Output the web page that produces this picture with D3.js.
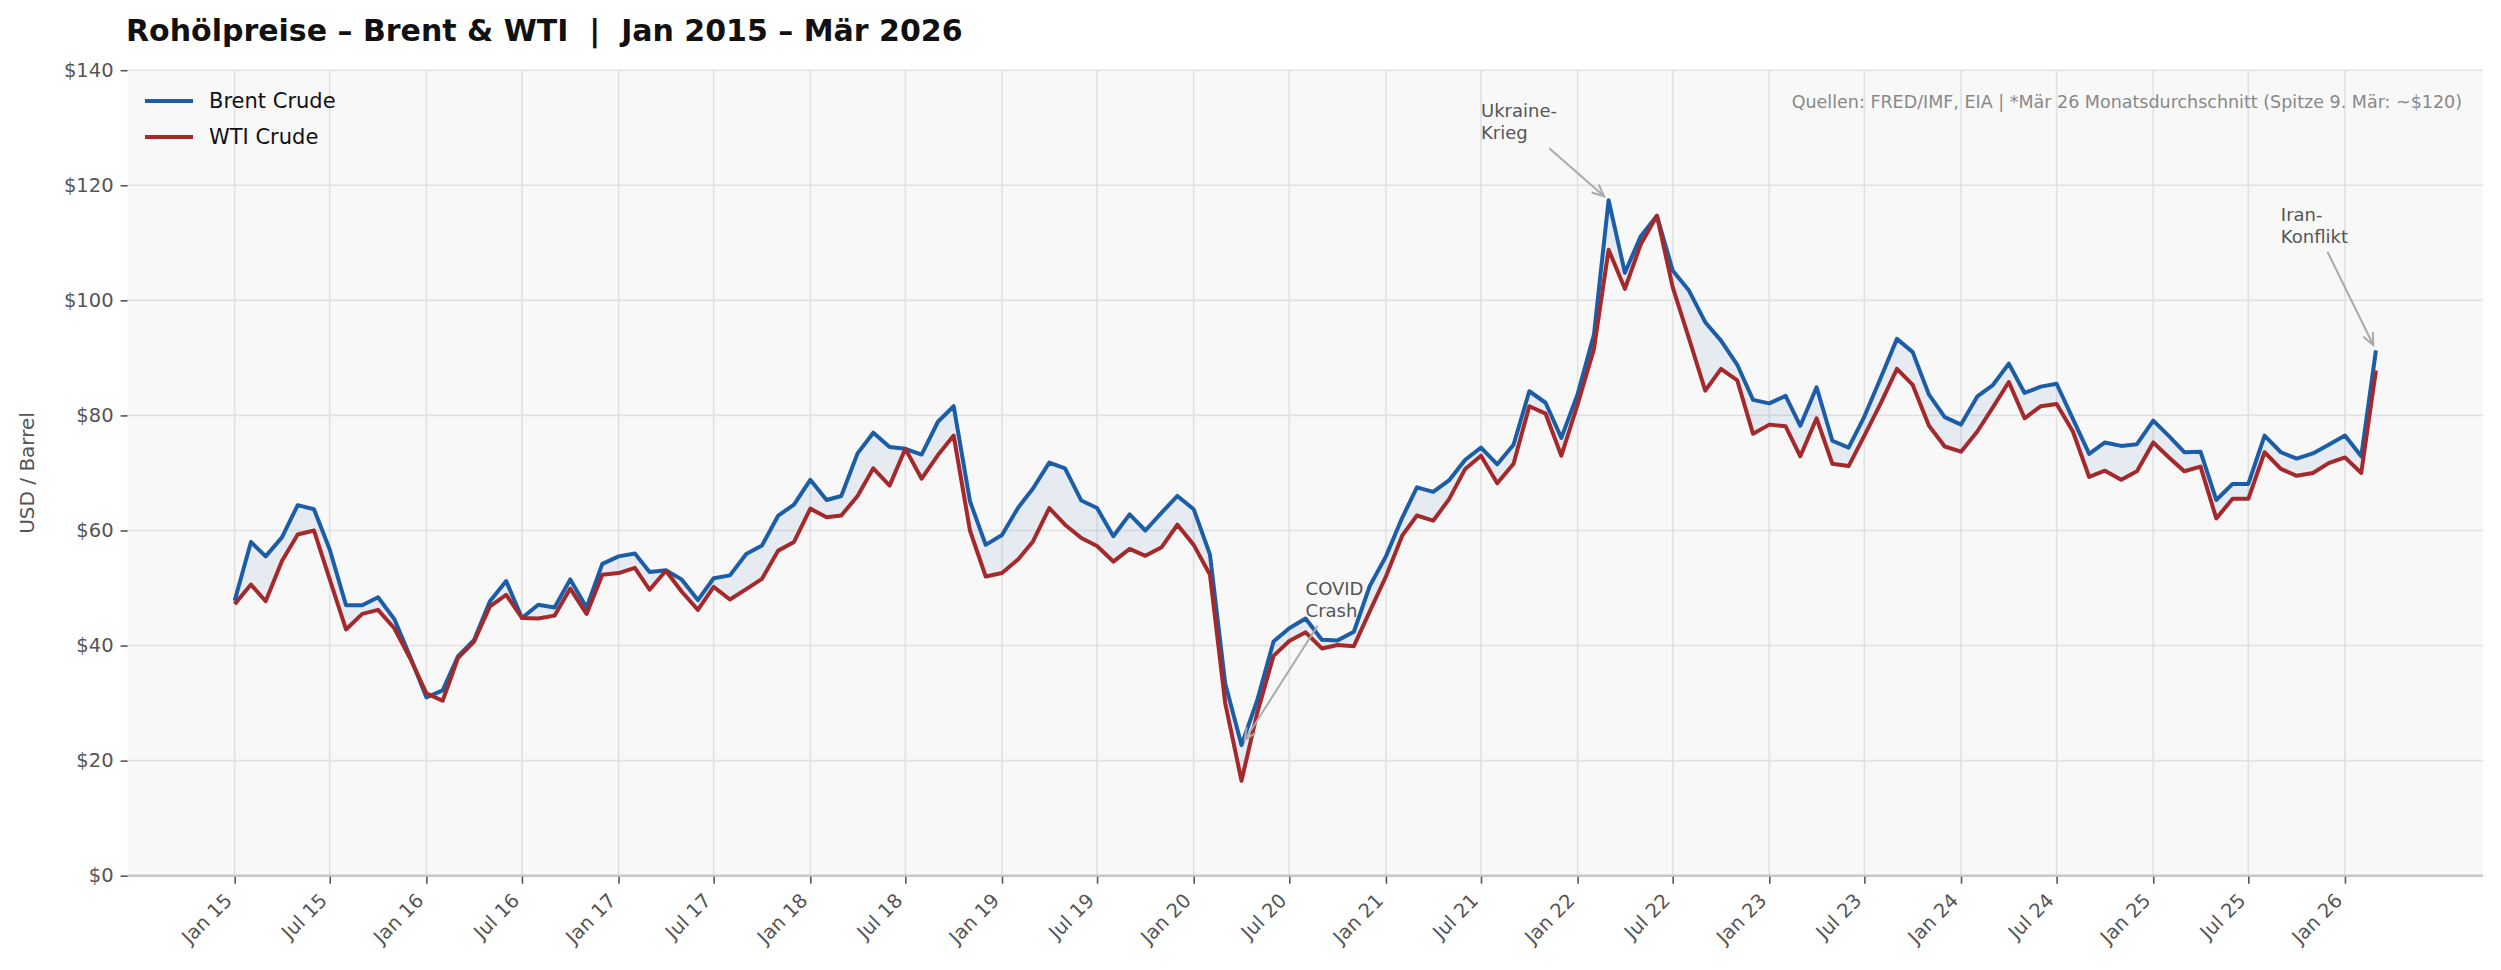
<!DOCTYPE html>
<html><head><meta charset="utf-8">
<script src="https://cdn.jsdelivr.net/npm/d3@7/dist/d3.min.js"></script>
<style>
body{margin:0;background:#fff}
svg{display:block;font-family:"DejaVu Sans",sans-serif}
</style>
</head><body>
<svg id="chart" width="2501" height="970"></svg>
<script>
// ---------- data ----------
const firstMonth = [2015, 0];   // Jan 2015
const seriesNames = ["Brent Crude", "WTI Crude"];
const brent = [
  47.8, 58.0, 55.5, 58.8, 64.4, 63.7, 56.7, 47.0, 47.0, 48.4, 44.6, 38.1,
  31.0, 32.2, 38.1, 41.0, 47.7, 51.2, 44.8, 47.1, 46.6, 51.5, 46.6, 54.2,
  55.5, 56.0, 52.8, 53.1, 51.5, 47.9, 51.7, 52.2, 55.9, 57.4, 62.6, 64.5,
  68.8, 65.3, 66.0, 73.4, 77.0, 74.5, 74.2, 73.2, 78.9, 81.6, 65.1, 57.5,
  59.2, 64.0, 67.3, 71.8, 70.8, 65.2, 63.9, 59.0, 62.8, 60.0, 63.1, 66.0,
  63.7, 55.8, 33.4, 22.7, 30.5, 40.7, 43.0, 44.7, 41.0, 40.9, 42.4, 50.3,
  55.5, 62.2, 67.5, 66.7, 68.7, 72.3, 74.4, 71.5, 74.9, 84.2, 82.2, 76.1,
  83.7, 94.0, 117.4, 104.8, 111.1, 114.7, 105.2, 101.7, 96.2, 93.0, 88.8, 82.7,
  82.1, 83.4, 78.2, 84.9, 75.6, 74.4, 79.8, 86.5, 93.3, 91.0, 83.6, 79.7,
  78.4, 83.3, 85.2, 89.0, 83.9, 85.0, 85.5, 79.4, 73.3, 75.3, 74.7, 75.0,
  79.1, 76.3, 73.6, 73.7, 65.3, 68.1, 68.1, 76.5, 73.6, 72.5, 73.4, 74.9,
  76.5, 72.9, 91.3
];
const wti = [
  47.2, 50.6, 47.7, 54.7, 59.3, 60.0, 51.5, 42.8, 45.5, 46.2, 43.0, 37.8,
  31.7, 30.4, 37.8, 40.7, 46.8, 48.8, 44.8, 44.7, 45.2, 49.9, 45.5, 52.3,
  52.6, 53.5, 49.7, 53.0, 49.4, 46.2, 50.2, 48.0, 49.8, 51.6, 56.5, 58.0,
  63.8, 62.3, 62.6, 66.0, 70.8, 67.8, 74.2, 69.0, 73.1, 76.5, 60.0, 52.0,
  52.6, 55.0, 58.1, 63.9, 61.0, 58.7, 57.3, 54.6, 56.8, 55.6, 57.1, 61.0,
  57.5, 52.3, 30.0, 16.5, 28.3, 38.2, 40.8, 42.3, 39.5, 40.1, 39.9, 45.9,
  52.0, 59.1, 62.6, 61.7, 65.4, 70.7, 73.0, 68.2, 71.6, 81.6, 80.3, 73.0,
  81.9, 91.5, 108.8, 102.0, 109.7, 114.7, 102.3, 93.4, 84.3, 88.1, 86.1, 76.8,
  78.4, 78.1, 72.9, 79.5, 71.6, 71.2, 76.5, 82.1, 88.1, 85.3, 78.2, 74.6,
  73.7, 77.2, 81.3, 85.8, 79.5, 81.6, 82.0, 77.2, 69.3, 70.4, 68.8, 70.3,
  75.3, 72.6, 70.3, 71.1, 62.1, 65.5, 65.5, 73.6, 70.7, 69.5, 70.0, 71.7,
  72.7, 70.0, 87.8
];
const yTicks = [0, 20, 40, 60, 80, 100, 120, 140];
const tickMonthNames = {0: "Jan", 6: "Jul"};
const annotationTexts = [["COVID", "Crash"], ["Ukraine-", "Krieg"], ["Iran-", "Konflikt"]];
const annotationTargetIndex = [63, 86, 134];        // Apr 20, Mar 22, Mar 26 (Brent)
const annotationTextMonthIndex = [67, 78, 128];     // Aug 20, Jul 21, Sep 25
const annotationTextValue = [45, 128, 110];
const titleText = "Rohölpreise – Brent & WTI  |  Jan 2015 – Mär 2026";
const sourceText = "Quellen: FRED/IMF, EIA | *Mär 26 Monatsdurchschnitt (Spitze 9. Mär: ~$120)";

// ---------- layout ----------
const W = 2501, H = 970;
const M = {left: 127.6, right: 2483, top: 70.2, bottom: 875.7};
const colBrent = "#1b5ea7", colWTI = "#a5282b";

const months = brent.map((_, i) => new Date(firstMonth[0], firstMonth[1] + i, 1));
const rows = months.map((d, i) => ({date: d, brent: brent[i], wti: wti[i]}));

const t0 = +months[0], t1 = +months[months.length - 1], span = t1 - t0;
const x = d3.scaleTime().domain([new Date(t0 - 0.05 * span), new Date(t1 + 0.05 * span)]).range([M.left, M.right]);
const y = d3.scaleLinear().domain([0, 140]).range([M.bottom, M.top]);

const svg = d3.select("#chart");
svg.append("rect").attr("width", W).attr("height", H).attr("fill", "#fff");
svg.append("rect").attr("x", M.left).attr("y", M.top).attr("width", M.right - M.left).attr("height", M.bottom - M.top).attr("fill", "#f8f8f8");

const xTickDates = months.filter(d => d.getMonth() % 6 === 0);

// grid
const grid = svg.append("g");
grid.selectAll("line.h").data(yTicks).join("line")
  .attr("x1", M.left).attr("x2", M.right).attr("y1", d => y(d)).attr("y2", d => y(d))
  .attr("stroke", "#e1e1e1").attr("stroke-width", 1.6);
grid.selectAll("line.v").data(xTickDates).join("line")
  .attr("x1", d => x(d)).attr("x2", d => x(d)).attr("y1", M.top).attr("y2", M.bottom)
  .attr("stroke", "#e1e1e1").attr("stroke-width", 1.6);

// fill between
const area = d3.area().x(d => x(d.date)).y0(d => y(d.wti)).y1(d => y(d.brent));
svg.append("path").datum(rows).attr("d", area).attr("fill", colBrent).attr("fill-opacity", 0.08);

// lines
const lineB = d3.line().x(d => x(d.date)).y(d => y(d.brent));
const lineW = d3.line().x(d => x(d.date)).y(d => y(d.wti));
svg.append("path").datum(rows).attr("d", lineB).attr("fill", "none").attr("stroke", colBrent)
  .attr("stroke-width", 4).attr("stroke-linejoin", "round");
svg.append("path").datum(rows).attr("d", lineW).attr("fill", "none").attr("stroke", colWTI)
  .attr("stroke-width", 4).attr("stroke-linejoin", "round");

// bottom spine
svg.append("line").attr("x1", M.left).attr("x2", M.right).attr("y1", M.bottom).attr("y2", M.bottom)
  .attr("stroke", "#c8c8c8").attr("stroke-width", 2.5);

// x axis
const xAxis = d3.axisBottom(x).tickValues(xTickDates)
  .tickFormat(d => tickMonthNames[d.getMonth()] + " " + String(d.getFullYear()).slice(2))
  .tickSize(7).tickSizeOuter(0);
const gx = svg.append("g").attr("transform", `translate(0,${M.bottom + 1})`).call(xAxis);
gx.select(".domain").remove();
gx.selectAll(".tick line").attr("stroke", "#555").attr("stroke-width", 1.6);
gx.selectAll(".tick text").attr("fill", "#555").attr("font-size", 19.5)
  .attr("font-family", '"DejaVu Sans", sans-serif')
  .attr("text-anchor", "end").attr("x", 0).attr("y", 0).attr("dy", null)
  .attr("transform", "translate(-2,25) rotate(-45)");

// y axis
const yAxis = d3.axisLeft(y).tickValues(yTicks).tickFormat(d => "$" + d).tickSize(7).tickPadding(7);
const gy = svg.append("g").attr("transform", `translate(${M.left},0)`).call(yAxis);
gy.select(".domain").remove();
gy.selectAll(".tick line").attr("stroke", "#555").attr("stroke-width", 1.6);
gy.selectAll(".tick text").attr("fill", "#555").attr("font-size", 19.5)
  .attr("font-family", '"DejaVu Sans", sans-serif');

// y label
svg.append("text").attr("transform", `translate(27,${(M.top + M.bottom) / 2}) rotate(-90)`)
  .attr("text-anchor", "middle").attr("dominant-baseline", "central")
  .attr("fill", "#555").attr("font-size", 20).text("USD / Barrel");

// title
svg.append("text").attr("x", 126).attr("y", 41).attr("font-size", 30).attr("font-weight", "bold")
  .attr("fill", "#111").style("white-space", "pre").text(titleText);

// source note
svg.append("text").attr("x", 2462).attr("y", 108).attr("text-anchor", "end")
  .attr("font-size", 17.5).attr("fill", "#888").text(sourceText);

// legend
const legend = svg.append("g");
[colBrent, colWTI].forEach((c, i) => {
  const ly = 101 + i * 36;
  legend.append("line").attr("x1", 145).attr("x2", 193).attr("y1", ly).attr("y2", ly)
    .attr("stroke", c).attr("stroke-width", 4);
  legend.append("text").attr("x", 209).attr("y", ly).attr("dominant-baseline", "central")
    .attr("font-size", 21).attr("fill", "#111").text(seriesNames[i]);
});

// annotations
const annG = svg.append("g");
annotationTexts.forEach((lines, i) => {
  const tx = x(months[annotationTextMonthIndex[i]]);
  const lastBase = y(annotationTextValue[i]);
  const lh = 22;
  const t = annG.append("text").attr("font-size", 18).attr("fill", "#555");
  lines.forEach((s, j) => {
    t.append("tspan").attr("x", tx).attr("y", lastBase - (lines.length - 1 - j) * lh).text(s);
  });
  const bb = t.node().getBBox();
  const cx = bb.x + bb.width / 2, cy = bb.y + bb.height / 2;
  const px = x(months[annotationTargetIndex[i]]), py = y(brent[annotationTargetIndex[i]]);
  const dx = px - cx, dy = py - cy;
  const pad = 5;
  const tX = dx > 0 ? (bb.x + bb.width + pad - cx) / dx : (bb.x - pad - cx) / dx;
  const tY = dy > 0 ? (bb.y + bb.height + pad - cy) / dy : (bb.y - pad - cy) / dy;
  const ts = Math.min(tX, tY);
  const sx = cx + ts * dx, sy = cy + ts * dy;
  const len = Math.hypot(dx, dy), ux = dx / len, uy = dy / len;
  const ex = px - ux * 6, ey = py - uy * 6;
  annG.append("line").attr("x1", sx).attr("y1", sy).attr("x2", ex).attr("y2", ey)
    .attr("stroke", "#aaa").attr("stroke-width", 2);
  const hl = 13, ang = 0.42;
  const a = Math.atan2(uy, ux);
  const p1 = [ex - hl * Math.cos(a - ang), ey - hl * Math.sin(a - ang)];
  const p2 = [ex - hl * Math.cos(a + ang), ey - hl * Math.sin(a + ang)];
  annG.append("path").attr("d", `M${p1[0]},${p1[1]}L${ex},${ey}L${p2[0]},${p2[1]}`)
    .attr("fill", "none").attr("stroke", "#aaa").attr("stroke-width", 2);
});
</script>
</body></html>
